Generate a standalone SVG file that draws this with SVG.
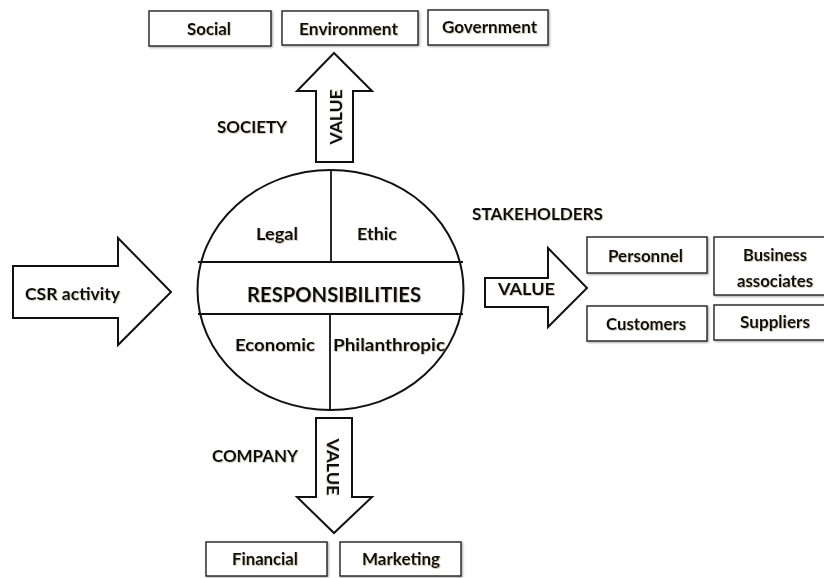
<svg xmlns="http://www.w3.org/2000/svg" width="824" height="578" viewBox="0 0 824 578">
  <defs>
    <filter id="shadow" x="-10%" y="-20%" width="130%" height="150%">
      <feDropShadow dx="1" dy="1" stdDeviation="0.8" flood-color="#555" flood-opacity="0.55"/>
    </filter>
    <filter id="tshadow" x="-10%" y="-30%" width="130%" height="170%">
      <feDropShadow dx="0.8" dy="0.8" stdDeviation="0.6" flood-color="#7a6a40" flood-opacity="0.45"/>
    </filter>
  </defs>
  <style>
    .box { fill: #fff; stroke: #222; stroke-width: 1.4; filter: url(#shadow); }
    .shape { fill: #fff; stroke: #111; stroke-width: 2; stroke-linejoin: miter; }
    .line { fill: none; stroke: #111; stroke-width: 1.8; }
    text { font-family: Lato, "Liberation Sans", sans-serif; font-weight: 700; font-size: 17px; fill: #111; filter: url(#tshadow); }
    .c { text-anchor: middle; }
    .big { font-size: 20px; }
  </style>

  <rect width="824" height="578" fill="#fff"/>

  <!-- central ellipse with four responsibilities -->
  <g id="responsibilities">
    <ellipse class="shape" cx="330.5" cy="290" rx="133" ry="120"/>
    <line class="line" x1="198" y1="262" x2="463" y2="262"/>
    <line class="line" x1="198" y1="314" x2="463" y2="314"/>
    <line class="line" x1="331" y1="170" x2="331" y2="262"/>
    <line class="line" x1="330" y1="314" x2="330" y2="410"/>
    <text class="c" x="277" y="240" textLength="42" lengthAdjust="spacingAndGlyphs">Legal</text>
    <text class="c" x="377" y="240" textLength="40" lengthAdjust="spacingAndGlyphs">Ethic</text>
    <text class="c big" x="334" y="302" textLength="174" lengthAdjust="spacingAndGlyphs">RESPONSIBILITIES</text>
    <text class="c" x="275" y="351" textLength="80" lengthAdjust="spacingAndGlyphs">Economic</text>
    <text class="c" x="389" y="351" textLength="112" lengthAdjust="spacingAndGlyphs">Philanthropic</text>
  </g>

  <!-- block arrows -->
  <g id="connectors">
    <g id="arrow-csr">
      <polygon class="shape" points="13,266 118,266 118,238 171,292 118,345 118,318 13,318"/>
      <text x="25" y="300" textLength="95" lengthAdjust="spacingAndGlyphs">CSR activity</text>
    </g>
    <g id="arrow-society">
      <polygon class="shape" points="316,162 316,91 297,91 334,53 372,91 353,91 353,162"/>
      <text class="c" transform="translate(342 117) rotate(-90)" textLength="55" lengthAdjust="spacingAndGlyphs">VALUE</text>
    </g>
    <g id="arrow-stakeholders">
      <polygon class="shape" points="485,278 548,278 548,248 587,288 548,327 548,307 485,307"/>
      <text x="498" y="295" textLength="57" lengthAdjust="spacingAndGlyphs">VALUE</text>
    </g>
    <g id="arrow-company">
      <polygon class="shape" points="316,418 352,418 352,497 372,497 334,533 297,497 316,497"/>
      <text class="c" transform="translate(327 467) rotate(90)" textLength="57" lengthAdjust="spacingAndGlyphs">VALUE</text>
    </g>
  </g>

  <!-- group labels -->
  <g id="labels">
    <text x="217" y="133" textLength="70" lengthAdjust="spacingAndGlyphs">SOCIETY</text>
    <text x="472" y="220" textLength="131" lengthAdjust="spacingAndGlyphs">STAKEHOLDERS</text>
    <text x="212" y="462" textLength="86" lengthAdjust="spacingAndGlyphs">COMPANY</text>
  </g>

  <!-- society boxes -->
  <g id="social">
    <rect class="box" x="149" y="11" width="122" height="35"/>
    <text class="c" x="209" y="35" textLength="44" lengthAdjust="spacingAndGlyphs">Social</text>
  </g>
  <g id="environment">
    <rect class="box" x="282" y="11" width="136" height="34"/>
    <text class="c" x="348.5" y="35" textLength="99" lengthAdjust="spacingAndGlyphs">Environment</text>
  </g>
  <g id="government">
    <rect class="box" x="428" y="10" width="120" height="35"/>
    <text class="c" x="489.5" y="33" textLength="95" lengthAdjust="spacingAndGlyphs">Government</text>
  </g>

  <!-- stakeholder boxes -->
  <g id="personnel">
    <rect class="box" x="587" y="237" width="120" height="36"/>
    <text class="c" x="645.5" y="262" textLength="75" lengthAdjust="spacingAndGlyphs">Personnel</text>
  </g>
  <g id="business-associates">
    <rect class="box" x="714" y="237" width="112" height="58"/>
    <text class="c" x="775" y="261" textLength="64" lengthAdjust="spacingAndGlyphs">Business</text>
    <text class="c" x="775" y="287" textLength="76" lengthAdjust="spacingAndGlyphs">associates</text>
  </g>
  <g id="customers">
    <rect class="box" x="587" y="306" width="120" height="35"/>
    <text class="c" x="646" y="330" textLength="80" lengthAdjust="spacingAndGlyphs">Customers</text>
  </g>
  <g id="suppliers">
    <rect class="box" x="714" y="305" width="112" height="35"/>
    <text class="c" x="775" y="328" textLength="70" lengthAdjust="spacingAndGlyphs">Suppliers</text>
  </g>

  <!-- company boxes -->
  <g id="financial">
    <rect class="box" x="206" y="542" width="121" height="34"/>
    <text class="c" x="265" y="565" textLength="66" lengthAdjust="spacingAndGlyphs">Financial</text>
  </g>
  <g id="marketing">
    <rect class="box" x="340" y="542" width="121" height="34"/>
    <text class="c" x="401" y="565" textLength="78" lengthAdjust="spacingAndGlyphs">Marketing</text>
  </g>
</svg>
